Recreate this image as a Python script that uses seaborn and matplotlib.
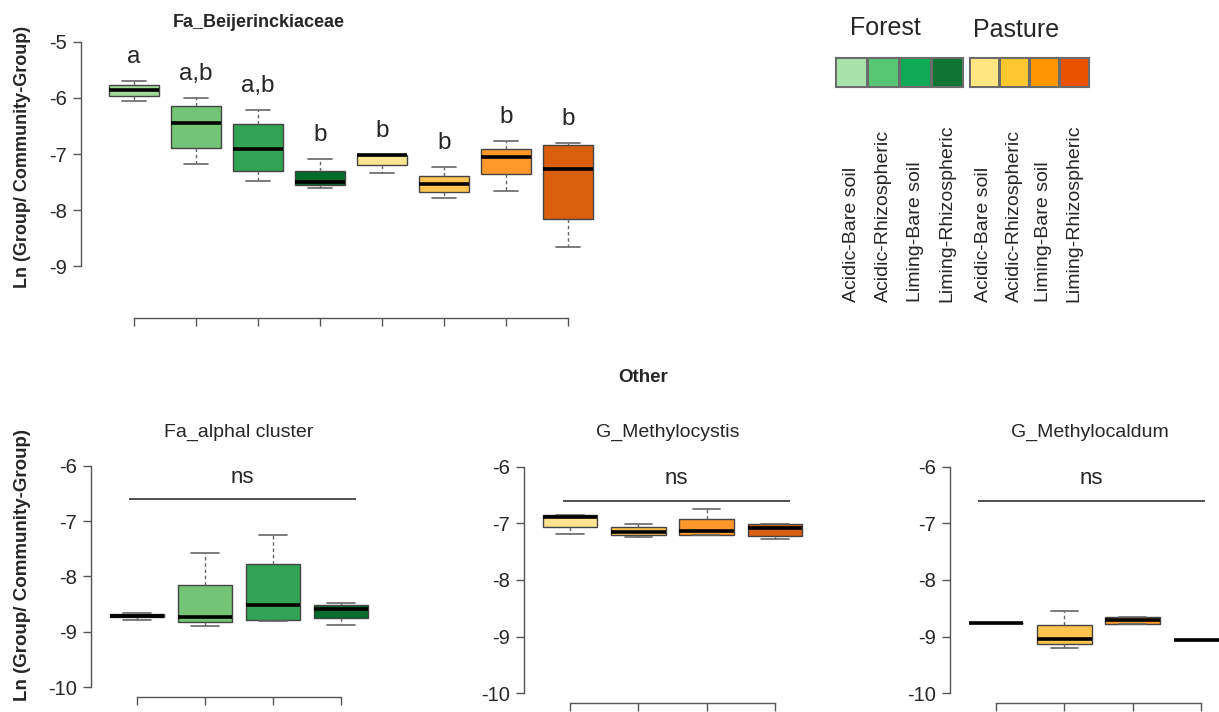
import numpy as np
import pandas as pd
import matplotlib
matplotlib.use("Agg")
import matplotlib.pyplot as plt
from matplotlib.colors import ListedColormap
import seaborn as sns

sns.set_style("white")
plt.rcParams["font.family"] = ["Liberation Sans", "DejaVu Sans"]
plt.rcParams["axes.unicode_minus"] = False

# ---- groups and colours -------------------------------------------------
treatments = ["Acidic-Bare soil", "Acidic-Rhizospheric",
              "Liming-Bare soil", "Liming-Rhizospheric"]
land_uses = ["Forest", "Pasture"]

forest_box_colors = ["#a1d99b", "#74c476", "#31a354", "#006d2c"]
pasture_box_colors = ["#fee391", "#fec44f", "#fe9929", "#d95f0e"]
forest_key_colors = ["#a8e2aa", "#55c674", "#0eaa55", "#0e7634"]
pasture_key_colors = ["#ffe680", "#ffc72e", "#ff9500", "#e85200"]

# ---- Fa_Beijerinckiaceae (Forest x4, then Pasture x4) --------------------
beij_low = [-6.05, -7.17, -7.48, -7.60, -7.34, -7.79, -7.65, -8.65]
beij_q1 = [-5.97, -6.90, -7.30, -7.56, -7.19, -7.67, -7.36, -8.15]
beij_med = [-5.86, -6.45, -6.91, -7.50, -7.02, -7.54, -7.06, -7.26]
beij_q3 = [-5.78, -6.15, -6.47, -7.30, -7.01, -7.39, -6.91, -6.84]
beij_high = [-5.70, -6.01, -6.22, -7.09, -7.01, -7.23, -6.77, -6.81]
beij_letters = ["a", "a,b", "a,b", "b", "b", "b", "b", "b"]

# ---- Other: Fa_alphal cluster (Forest) -----------------------------------
alph_low = [-8.78, -8.90, -8.80, -8.88]
alph_q1 = [-8.73, -8.83, -8.78, -8.75]
alph_med = [-8.71, -8.74, -8.52, -8.59]
alph_q3 = [-8.67, -8.15, -7.77, -8.51]
alph_high = [-8.65, -7.57, -7.26, -8.47]

# ---- Other: G_Methylocystis (Pasture) ------------------------------------
mcys_low = [-7.19, -7.24, -7.21, -7.28]
mcys_q1 = [-7.06, -7.21, -7.21, -7.22]
mcys_med = [-6.88, -7.15, -7.14, -7.09]
mcys_q3 = [-6.85, -7.07, -6.92, -7.01]
mcys_high = [-6.85, -7.01, -6.74, -7.01]

# ---- Other: G_Methylocaldum (Pasture) ------------------------------------
mcal_low = [-8.76, -9.20, -8.77, -9.06]
mcal_q1 = [-8.76, -9.13, -8.77, -9.06]
mcal_med = [-8.76, -9.04, -8.71, -9.06]
mcal_q3 = [-8.76, -8.79, -8.65, -9.06]
mcal_high = [-8.76, -8.54, -8.65, -9.06]

other_titles = ["Fa_alphal cluster", "G_Methylocystis", "G_Methylocaldum"]
other_sig = "ns"

W, H = 1219, 712
fig = plt.figure(figsize=(W / 100, H / 100), dpi=100)


def rect(left, top, right, bottom):
    """Figure-fraction rectangle from pixel edges."""
    return [left / W, 1 - bottom / H, (right - left) / W, (bottom - top) / H]


def fxy(x, y):
    return x / W, 1 - y / H


AXIS_GREY = "#555555"


def draw_boxes(ax, groups, colors, low, q1, med, q3, high):
    stats = np.column_stack([low, q1, med, q3, high])
    df = pd.DataFrame({
        "group": np.repeat(groups, stats.shape[1]),
        "value": stats.ravel(),
    })
    sns.boxplot(
        data=df, x="group", y="value", hue="group",
        order=groups, hue_order=groups, palette=colors,
        saturation=1, width=0.8, whis=(0, 100), fliersize=0,
        linecolor="#444444", linewidth=1.0, legend=False, ax=ax,
        medianprops={"color": "black", "linewidth": 2.6},
        whiskerprops={"color": "#666666", "linestyle": (0, (2.5, 2)), "linewidth": 1.0},
        capprops={"color": "#666666", "linewidth": 1.2},
    )


def style_axes(ax, n, ytick_lo, ytick_hi, xlim, ylim):
    ax.set_xlim(*xlim)
    ax.set_ylim(*ylim)
    for side in ("top", "right"):
        ax.spines[side].set_visible(False)
    for side in ("left", "bottom"):
        ax.spines[side].set_color(AXIS_GREY)
        ax.spines[side].set_linewidth(1.0)
    ax.spines["left"].set_bounds(ytick_lo, ytick_hi)
    ax.spines["bottom"].set_bounds(0, n - 1)
    ticks = np.arange(ytick_lo, ytick_hi + 1)
    ax.set_yticks(ticks)
    ax.set_yticklabels([f"{int(t)}" for t in ticks])
    ax.set_xticks(range(n))
    ax.set_xticklabels([])
    ax.set_xlabel("")
    ax.set_ylabel("")
    ax.tick_params(axis="both", direction="out", length=6, width=1.0,
                   color=AXIS_GREY, labelsize=14.5, pad=4, left=True, bottom=True)
    ax.patch.set_alpha(0)


# ---- top panel -----------------------------------------------------------
top_groups = [f"{lu} {t}" for lu in land_uses for t in treatments]
ax_top = fig.add_axes(rect(81, 32.7, 621, 318))
draw_boxes(ax_top, top_groups, forest_box_colors + pasture_box_colors,
           beij_low, beij_q1, beij_med, beij_q3, beij_high)
style_axes(ax_top, 8, -9, -5, (-0.855, 7.855), (-9.92, -4.84))
for i, (lab, hi) in enumerate(zip(beij_letters, beij_high)):
    ax_top.text(i, hi + 0.32, lab, ha="center", va="baseline", fontsize=17.5)

fig.text(*fxy(259, 27), "Fa_Beijerinckiaceae", ha="center", va="baseline",
         fontsize=13, fontweight="bold")
fig.text(*fxy(23, 157), "Ln (Group/ Community-Group)", rotation=90,
         ha="center", va="center", fontsize=13, fontweight="bold")

# ---- bottom panels -------------------------------------------------------
# (axes rect, y-limits, colours, stats, title centre, significance bar span)
other_specs = [
    (rect(91, 456.8, 387, 697), (-10.175, -5.84), forest_box_colors,
     (alph_low, alph_q1, alph_med, alph_q3, alph_high), 239, (-0.12, 3.22)),
    (rect(524, 457.6, 821, 703), (-10.171, -5.84), pasture_box_colors,
     (mcys_low, mcys_q1, mcys_med, mcys_q3, mcys_high), 668, (-0.11, 3.22)),
    (rect(950, 457.6, 1247, 703), (-10.171, -5.84), pasture_box_colors,
     (mcal_low, mcal_q1, mcal_med, mcal_q3, mcal_high), 1090, (-0.27, 3.06)),
]

for (r, ylim, cols, stats, title_x, bar), title in zip(other_specs, other_titles):
    ax = fig.add_axes(r)
    draw_boxes(ax, treatments, cols, *stats)
    style_axes(ax, 4, -10, -6, (-0.675, 3.675), ylim)
    ax.plot(list(bar), [-6.6, -6.6], color="#222222", linewidth=1.1,
            solid_capstyle="butt")
    ax.text(sum(bar) / 2, -6.31, other_sig, ha="center", va="baseline", fontsize=16)
    fig.text(*fxy(title_x, 437), title, ha="center", va="baseline", fontsize=14)

fig.text(*fxy(643, 382), "Other", ha="center", va="baseline",
         fontsize=13.5, fontweight="bold")
fig.text(*fxy(23, 565), "Ln (Group/ Community-Group)", rotation=90,
         ha="center", va="center", fontsize=13.5, fontweight="bold")

# ---- colour key ----------------------------------------------------------
key_specs = [
    (835, 32, forest_key_colors, "Forest", 885, 35),
    (969, 30, pasture_key_colors, "Pasture", 1016, 37),
]
for x0, cell, cols, name, name_x, name_y in key_specs:
    kax = fig.add_axes(rect(x0, 57, x0 + cell * len(cols), 87))
    sns.heatmap(np.arange(len(cols))[None, :], cmap=ListedColormap(cols),
                cbar=False, linewidths=0.8, linecolor="#6b6b6b", ax=kax,
                xticklabels=False, yticklabels=False)
    for s in kax.spines.values():
        s.set_visible(True)
        s.set_color("#6b6b6b")
        s.set_linewidth(0.8)
    fig.text(*fxy(name_x, name_y), name, ha="center", va="baseline", fontsize=18)
    for j, t in enumerate(treatments):
        fig.text(*fxy(x0 + cell * (j + 0.5), 302), t, rotation=90,
                 ha="center", va="bottom", fontsize=14)

fig.savefig("out.png", dpi=100, facecolor="white")
